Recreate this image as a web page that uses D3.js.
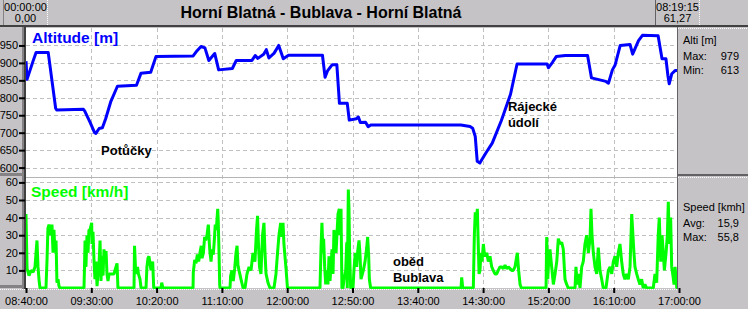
<!DOCTYPE html>
<html lang="cs">
<head>
<meta charset="UTF-8">
<title>Horní Blatná - Bublava - Horní Blatná</title>
<script src="https://d3js.org/d3.v7.min.js"></script>
<style>
    body { margin: 0; background: #c6c3c6; }
    svg { display: block; font-family: "Liberation Sans", Arial, sans-serif; }
</style>
</head>
<body>
<script>
    // ---- data (minutes after 08:40:00, value) ----
    const startTime = "08:40:00";
    const endTime = "17:00:00";
    const xTicks = ["08:40:00", "09:30:00", "10:20:00", "11:10:00", "12:00:00", "12:50:00",
                    "13:40:00", "14:30:00", "15:20:00", "16:10:00", "17:00:00"];
    const altTicks = [600, 650, 700, 750, 800, 850, 900, 950];
    const speedTicks = [10, 20, 30, 40, 50, 60];

    const altitude = [
        [0, 905], [0.8, 853], [2.3, 870], [5.4, 905], [7.7, 930], [17, 930], [22.7, 770], [23.5, 765],
        [44, 767], [45, 762], [49, 730], [52.5, 700], [53.5, 698], [56, 712], [58.5, 714], [61, 740],
        [65, 790], [70, 833], [84.6, 836], [88, 870], [95.5, 873], [99.5, 918], [128, 920], [131, 935],
        [134, 947], [137, 943], [140, 907], [144.5, 927], [147.5, 880], [158, 884], [161, 907], [173, 907],
        [175.5, 921], [177.5, 913], [182, 925], [184, 938], [186, 914], [190, 928], [193.5, 950], [197, 912],
        [201, 922], [227, 922], [229, 859], [231, 878], [234.5, 895], [238, 895], [240, 784], [246, 784],
        [247.5, 736], [253, 740], [254.5, 745], [256, 729], [260, 730], [262, 717], [264, 722], [333, 722],
        [340, 718], [342, 713], [344, 689], [345.5, 618], [347.5, 613], [352, 641], [357, 670], [364, 735],
        [371, 810], [376, 897], [399, 897], [400, 886], [403, 901], [406, 918], [413, 921], [430, 921],
        [433, 857], [444, 847], [446, 842], [449, 880], [451, 893], [455, 950], [462.5, 953], [464.5, 925],
        [469, 964], [472, 979], [484, 978], [487, 912], [490, 912], [491.5, 864], [492.5, 840], [494.5, 869],
        [497, 878], [499, 878]
    ];

    const speed = [
        [0, 42], [0.8, 11], [2.3, 7], [3.8, 10], [5.4, 9], [6.9, 12], [8.4, 27], [9.2, 12], [10, 4.5],
        [10.7, 0], [15.3, 0], [16.1, 16], [16.8, 34], [17.6, 36], [19.1, 30], [19.9, 36], [20.7, 20],
        [21.4, 33], [22.2, 20], [23, 27], [23.7, 3], [24.5, 5], [25.3, 1], [26, 0], [44.4, 0], [44.8, 12],
        [45.2, 27], [45.9, 12], [46.7, 30], [47.5, 20], [48.2, 33], [49, 33], [50.3, 37], [50.5, 25],
        [51.3, 32], [52.1, 15], [52.8, 5], [53.6, 15], [54.4, 1], [55.1, 8], [55.9, 13], [56.7, 27],
        [57.4, 4], [58.2, 18], [59, 7], [59.7, 22], [60.5, 16], [61.3, 21], [62, 8], [62.8, 4], [63.6, 8],
        [67.4, 8], [68.1, 10], [68.9, 12], [69.7, 14], [70.4, 0], [82.7, 0], [83.1, 24], [83.8, 12],
        [84.6, 8], [85.4, 12], [86.1, 8], [87.3, 5], [88.1, 0], [91.9, 0], [92.6, 12], [93.4, 17],
        [94.2, 18], [94.9, 14], [95.7, 10], [97, 15], [97.8, 0], [103.4, 0], [103.9, 3], [104.9, 0],
        [127.9, 0], [128.1, 9], [129.2, 16], [130.2, 14], [131.2, 19], [132.2, 15], [133.2, 20], [134.2, 24],
        [134.8, 17], [135.8, 20], [136.8, 29], [137.6, 27], [138.6, 30], [139.6, 36], [140.4, 25], [140.9, 20],
        [141.7, 15], [142.4, 22], [143.4, 19], [144.2, 27], [144.9, 36], [145.7, 33], [146.8, 45], [147.2, 38],
        [147.8, 20], [148.3, 2], [148.5, 0], [156.2, 0], [156.7, 7], [157.7, 10], [158.7, 4], [159.8, 11],
        [160.8, 20], [161.6, 24], [162.3, 13], [163.1, 10], [164.6, 5], [166.2, 0], [167.7, 0], [169.2, 8],
        [170.8, 12], [172.3, 10], [173.8, 20], [175.3, 15], [176.5, 33], [177.3, 41], [178, 25], [178.8, 12],
        [179.9, 8], [181.1, 30], [182.2, 37], [183, 20], [183.8, 8], [185.3, 3], [186.8, 0], [189.9, 0],
        [191.4, 8], [192.6, 20], [193.7, 30], [195, 37], [196, 29], [196.8, 37], [197.5, 25], [198.3, 18],
        [199.1, 11], [200.2, 0], [225.1, 0], [225.9, 23], [226.6, 37], [227.4, 20], [227.9, 28], [228.7, 12],
        [229.5, 2], [230.5, 10], [231.2, 2], [232, 18], [232.8, 4], [233.5, 12], [234.3, 22], [235.1, 8],
        [235.8, 33], [237.4, 20], [238.9, 42], [239.9, 45], [240.4, 30], [241.2, 45], [241.9, 0], [242.7, 0],
        [243.5, 5], [244.8, 10], [245.6, 26], [246, 0], [246.8, 56], [247.3, 45], [247.8, 20], [248.6, 0],
        [250.4, 0], [251.1, 10], [252.1, 20], [253.2, 12], [254, 21], [255, 27], [255.7, 20], [256.5, 5],
        [258.3, 10], [259.6, 15], [260.9, 23], [261.6, 29], [262.4, 18], [262.9, 5], [263.9, 0], [333.1, 0],
        [333.6, 6], [334.4, 0], [342.5, 0], [343.3, 30], [344, 43], [344.8, 38], [345.6, 45], [346.1, 30],
        [346.9, 8], [347.6, 10], [348.4, 20], [349.2, 15], [350.2, 25], [350.9, 20], [351.7, 18], [352.8, 20],
        [354, 15], [355.3, 18], [356.6, 12], [357.8, 10], [359.1, 8], [360.4, 8], [361.6, 10], [362.9, 12],
        [364.2, 12], [365.5, 11], [366.8, 13], [368.1, 11], [369.3, 12], [370.6, 11], [371.9, 10], [373.1, 10],
        [374.4, 12], [376.2, 20], [377.2, 10], [378.3, 2], [379.3, 0], [398.2, 0], [398.7, 29], [399.5, 5],
        [400.2, 15], [401.2, 22], [402.5, 12], [403.8, 2], [405.1, 8], [406.4, 15], [407.6, 28], [408.9, 25],
        [410.2, 26], [411.4, 22], [412.7, 5], [414, 2], [415.2, 0], [420.4, 0], [421.1, 12], [422.1, 2],
        [423.2, 8], [424.2, 0], [425.5, 12], [426.7, 15], [428, 25], [429.3, 30], [430.6, 20], [431.9, 28],
        [432.6, 45], [433.4, 30], [434.4, 20], [435.7, 12], [437, 8], [438.2, 23], [439.5, 10], [440.8, 5],
        [442, 0], [444.1, 0], [445.9, 10], [447.2, 12], [448.5, 8], [449.7, 15], [451, 18], [452.3, 12],
        [453.5, 20], [454.8, 25], [456.1, 15], [457.3, 8], [458.6, 5], [459.9, 8], [461.2, 5], [462.5, 12],
        [463.8, 42], [465.5, 20], [466.3, 12], [467.6, 8], [468.8, 5], [470.1, 2], [471.4, 5], [472.6, 0],
        [473.9, 2], [475.2, 0], [480.3, 0], [481.6, 8], [482.9, 3], [484.1, 30], [484.9, 40], [486, 15],
        [487, 30], [488, 20], [488.8, 10], [490.1, 20], [491.1, 30], [491.8, 49], [492.6, 25], [493.6, 40],
        [494.4, 12], [495.2, 8], [496.2, 2], [497, 12], [498.3, 0], [498.5, 0]
    ];

    const title = "Horní Blatná - Bublava - Horní Blatná";
    const cursorLeft = ["00:00:00", "0,00"];
    const cursorRight = ["08:19:15", "61,27"];
    const altStats = [["Max:", "979"], ["Min:", "613"]];
    const speedStats = [["Avg:", "15,9"], ["Max:", "55,8"]];
    const notes = [
        { panel: "alt", t: "09:37:30", v: 636, lines: ["Potůčky"] },
        { panel: "alt", t: "14:49:00", v: 762, lines: ["Rájecké", "údolí"] },
        { panel: "speed", t: "13:21:00", v: 12.5, lines: ["oběd", "Bublava"] }
    ];

    // ---- layout ----
    const width = 748, height = 309;
    const plot = { left: 26, right: 677, top: 28, mid: 177, bottom: 288 };

    const parse = d3.timeParse("%H:%M:%S");
    const t0 = parse(startTime);
    const toDate = m => new Date(t0.getTime() + m * 60000);

    const x = d3.scaleTime().domain([t0, parse(endTime)]).range([26, 679]);
    const yAlt = d3.scaleLinear().domain([573, 1000]).range([plot.mid, plot.top]);
    const ySpeed = d3.scaleLinear().domain([0, 62.5]).range([plot.bottom, plot.mid + 1]);

    const svg = d3.select("body").append("svg")
        .attr("width", width)
        .attr("height", height);

    svg.append("rect").attr("width", width).attr("height", height).attr("fill", "#c6c3c6");

    // plot background
    svg.append("rect")
        .attr("x", plot.left).attr("y", plot.top)
        .attr("width", plot.right - plot.left).attr("height", plot.bottom - plot.top)
        .attr("fill", "#ffffff");

    const defs = svg.append("defs");
    defs.append("clipPath").attr("id", "clipAlt").append("rect")
        .attr("x", plot.left).attr("y", plot.top)
        .attr("width", plot.right - plot.left).attr("height", plot.mid - plot.top);
    defs.append("clipPath").attr("id", "clipSpeed").append("rect")
        .attr("x", plot.left).attr("y", plot.mid + 1)
        .attr("width", plot.right - plot.left).attr("height", plot.bottom - plot.mid);

    // grid
    const grid = svg.append("g")
        .attr("stroke", "#c0c0c0")
        .attr("stroke-dasharray", "4,3")
        .attr("shape-rendering", "crispEdges");

    grid.selectAll(".vgrid")
        .data(xTicks.slice(1, -1))
        .enter().append("line")
            .attr("x1", d => Math.round(x(parse(d))) + 0.5)
            .attr("x2", d => Math.round(x(parse(d))) + 0.5)
            .attr("y1", plot.top)
            .attr("y2", plot.bottom);

    grid.selectAll(".agrid")
        .data(altTicks)
        .enter().append("line")
            .attr("x1", plot.left).attr("x2", plot.right)
            .attr("y1", d => Math.round(yAlt(d)) + 0.5)
            .attr("y2", d => Math.round(yAlt(d)) + 0.5);

    grid.selectAll(".sgrid")
        .data(speedTicks)
        .enter().append("line")
            .attr("x1", plot.left).attr("x2", plot.right)
            .attr("y1", d => Math.round(ySpeed(d)) + 0.5)
            .attr("y2", d => Math.round(ySpeed(d)) + 0.5);

    // separator between panels
    svg.append("line")
        .attr("x1", plot.left).attr("x2", plot.right)
        .attr("y1", plot.mid + 0.5).attr("y2", plot.mid + 0.5)
        .attr("stroke", "#b4b4b4");

    // series
    const altLine = d3.line()
        .x(d => x(toDate(d[0])))
        .y(d => yAlt(d[1]));

    const speedLine = d3.line()
        .x(d => x(toDate(d[0])))
        .y(d => ySpeed(d[1]));

    svg.append("path")
        .datum(speed)
        .attr("clip-path", "url(#clipSpeed)")
        .attr("fill", "none")
        .attr("stroke", "#00ff00")
        .attr("stroke-width", 3)
        .attr("stroke-linejoin", "bevel")
        .attr("d", speedLine);

    svg.append("path")
        .datum(altitude)
        .attr("clip-path", "url(#clipAlt)")
        .attr("fill", "none")
        .attr("stroke", "#0000ff")
        .attr("stroke-width", 3)
        .attr("stroke-linejoin", "round")
        .attr("d", altLine);

    // panel titles
    svg.append("text")
        .attr("x", 32).attr("y", 43)
        .attr("font-size", 15.5).attr("font-weight", "bold")
        .attr("fill", "#0000ff")
        .text("Altitude [m]");

    svg.append("text")
        .attr("x", 31).attr("y", 197)
        .attr("font-size", 15.5).attr("font-weight", "bold")
        .attr("fill", "#00ff00")
        .text("Speed [km/h]");

    // notes
    notes.forEach(n => {
        const yy = n.panel === "alt" ? yAlt(n.v) : ySpeed(n.v);
        const t = svg.append("text")
            .attr("font-size", 13).attr("font-weight", "bold")
            .attr("fill", "#000");
        n.lines.forEach((l, i) => {
            t.append("tspan")
                .attr("x", x(parse(n.t)))
                .attr("y", yy + i * 16)
                .text(l);
        });
    });

    // left panel (axes)
    const leftPanel = svg.append("g").attr("shape-rendering", "crispEdges");
    leftPanel.append("rect").attr("x", 22).attr("y", 27).attr("width", 2).attr("height", 262).attr("fill", "#848284");
    leftPanel.append("rect").attr("x", 24).attr("y", 27).attr("width", 2).attr("height", 262).attr("fill", "#424142");
    leftPanel.append("rect").attr("x", 0).attr("y", 173).attr("width", 24).attr("height", 3).attr("fill", "#848284");
    leftPanel.append("rect").attr("x", 0).attr("y", 285).attr("width", 24).attr("height", 3).attr("fill", "#848284");

    const styleAxis = g => {
        g.select(".domain").remove();
        g.selectAll(".tick line").attr("stroke", "#000").attr("stroke-width", 2);
        g.selectAll(".tick text")
            .attr("fill", "#000")
            .attr("font-size", 11)
            .attr("font-family", "Liberation Sans, Arial, sans-serif");
    };

    svg.append("g")
        .attr("transform", "translate(25,0)")
        .call(d3.axisLeft(yAlt).tickValues(altTicks).tickSize(6).tickPadding(1).tickFormat(d3.format("d")))
        .call(styleAxis);

    svg.append("g")
        .attr("transform", "translate(25,0)")
        .call(d3.axisLeft(ySpeed).tickValues(speedTicks).tickSize(6).tickPadding(1).tickFormat(d3.format("d")))
        .call(styleAxis);

    // bottom axis
    svg.append("line")
        .attr("x1", 0).attr("x2", plot.right)
        .attr("y1", 289.5).attr("y2", 289.5)
        .attr("stroke", "#ffffff").attr("stroke-dasharray", "1,1");

    svg.append("g")
        .attr("transform", `translate(0,${plot.bottom})`)
        .call(d3.axisBottom(x).tickValues(xTicks.map(parse)).tickSize(5).tickPadding(4)
            .tickFormat(d3.timeFormat("%H:%M:%S")))
        .call(styleAxis);

    // right info panel
    const right = svg.append("g");
    right.append("line")
        .attr("x1", 677.5).attr("x2", 677.5).attr("y1", 27).attr("y2", 289)
        .attr("stroke", "#636163");
    right.append("rect").attr("x", 678).attr("y", 174).attr("width", 70).attr("height", 2).attr("fill", "#636163");
    right.append("line")
        .attr("x1", 678).attr("x2", width).attr("y1", 177.5).attr("y2", 177.5)
        .attr("stroke", "#ffffff").attr("stroke-dasharray", "1,1");
    right.append("line")
        .attr("x1", 678).attr("x2", width).attr("y1", 28.5).attr("y2", 28.5)
        .attr("stroke", "#ffffff").attr("stroke-dasharray", "1,1");

    const infoBlock = (label, stats, y0) => {
        right.append("text").attr("x", 683).attr("y", y0)
            .attr("font-size", 11).text(label);
        stats.forEach((s, i) => {
            right.append("text").attr("x", 683).attr("y", y0 + 16 + i * 14)
                .attr("font-size", 11).text(s[0]);
            right.append("text").attr("x", 739).attr("y", y0 + 16 + i * 14)
                .attr("font-size", 11).attr("text-anchor", "end").text(s[1]);
        });
    };
    infoBlock("Alti [m]", altStats, 44);
    infoBlock("Speed [kmh]", speedStats, 211);

    // header
    const header = svg.append("g");
    header.append("rect").attr("x", 0).attr("y", 25).attr("width", width).attr("height", 2).attr("fill", "#424142");
    header.append("line").attr("x1", 3.5).attr("x2", 3.5).attr("y1", 0).attr("y2", 25).attr("stroke", "#848284");
    header.append("line").attr("x1", 47.5).attr("x2", 47.5).attr("y1", 0).attr("y2", 25)
        .attr("stroke", "#ffffff").attr("stroke-dasharray", "1,1");
    header.append("line").attr("x1", 655.5).attr("x2", 655.5).attr("y1", 0).attr("y2", 25).attr("stroke", "#636163");
    header.append("line").attr("x1", 699.5).attr("x2", 699.5).attr("y1", 0).attr("y2", 25)
        .attr("stroke", "#ffffff").attr("stroke-dasharray", "1,1");

    [[cursorLeft, 25.5], [cursorRight, 677.5]].forEach(([lines, cx]) => {
        lines.forEach((l, i) => {
            header.append("text")
                .attr("x", cx).attr("y", 11 + i * 11)
                .attr("font-size", 11).attr("text-anchor", "middle")
                .text(l);
        });
    });

    header.append("text")
        .attr("x", 321).attr("y", 18)
        .attr("font-size", 16).attr("font-weight", "bold")
        .attr("text-anchor", "middle")
        .text(title);
</script>
</body>
</html>
